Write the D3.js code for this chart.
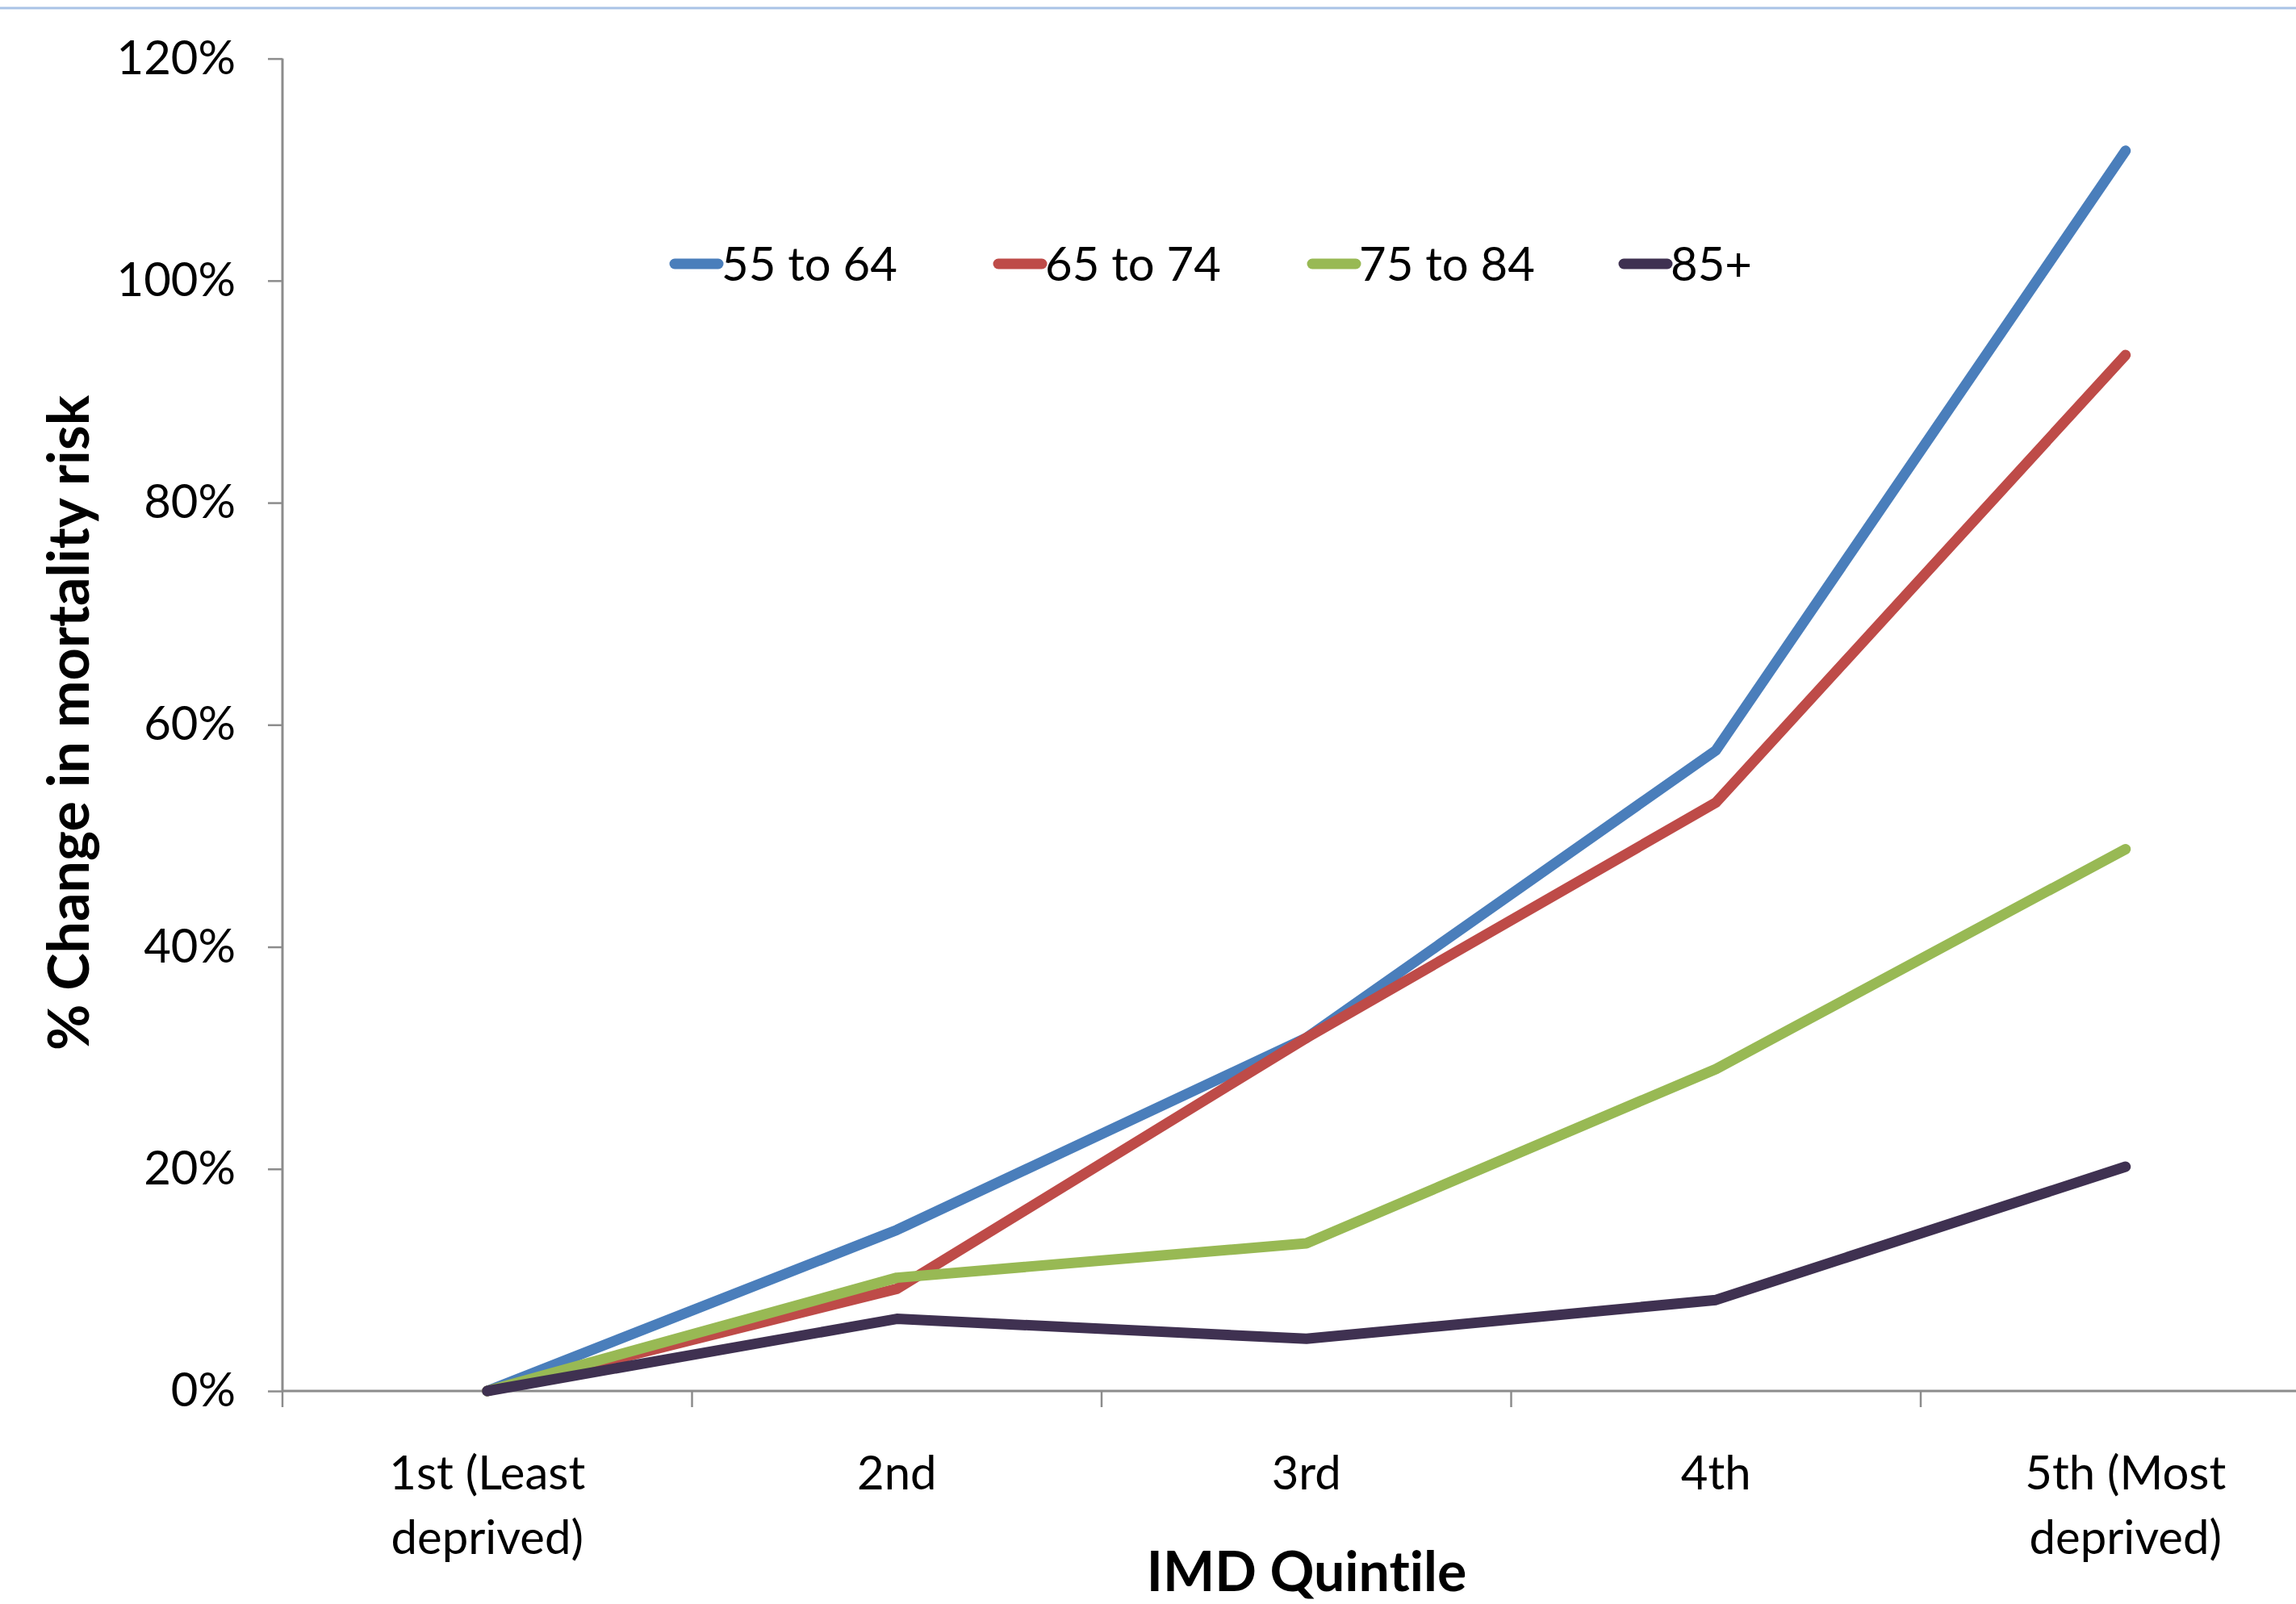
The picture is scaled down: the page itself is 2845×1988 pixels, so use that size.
<!DOCTYPE html>
<html>
<head>
<meta charset="utf-8">
<script src="https://cdn.jsdelivr.net/npm/d3@7"></script>
<style>
  html, body { margin: 0; padding: 0; background: #fff; }
  svg { display: block; }
  text { font-variant-ligatures: none; font-feature-settings: "liga" 0; }
</style>
</head>
<body>
<svg id="chart" width="2845" height="1988"></svg>
<script>
const categories = ["1st (Least|deprived)", "2nd", "3rd", "4th", "5th (Most|deprived)"];
const seriesNames = ["55 to 64", "65 to 74", "75 to 84", "85+"];
const s55to64 = [0, 0.145, 0.318, 0.577, 1.117];
const s65to74 = [0, 0.092, 0.318, 0.530, 0.933];
const s75to84 = [0, 0.102, 0.133, 0.290, 0.488];
const s85plus = [0, 0.065, 0.047, 0.082, 0.202];
const yTicks = [0, 0.2, 0.4, 0.6, 0.8, 1.0, 1.2];
const colors = ["#4a7ebb", "#be4b48", "#98b954", "#3f3151"];

const seriesValues = [s55to64, s65to74, s75to84, s85plus];
const svg = d3.select("#chart");
const W = 2845, H = 1988;
const font = "Lato, 'Open Sans', sans-serif";

// top thin border line
svg.append("line").attr("x1", 0).attr("x2", W).attr("y1", 10).attr("y2", 10)
  .attr("stroke", "#a9c3e6").attr("stroke-width", 3);

const x = d3.scaleBand().domain(categories).range([350, 350 + 5 * 507.5]).paddingInner(0).paddingOuter(0);
const y = d3.scaleLinear().domain([0, 1.2]).range([1724, 72.6]);
const axisColor = "#8c8c8c";

// Y axis
const yAxis = svg.append("g").attr("transform", "translate(350,0)")
  .call(d3.axisLeft(y).tickValues(yTicks).tickFormat(d3.format(".0%")).tickSize(18).tickPadding(40));
yAxis.select(".domain").attr("stroke", axisColor).attr("stroke-width", 3).attr("d", `M0,${y(1.2)}V${y(0)}`);
yAxis.selectAll(".tick line").attr("stroke", axisColor).attr("stroke-width", 2.5);
yAxis.selectAll(".tick text").attr("font-family", font).attr("font-size", 58).attr("fill", "#000");

// X axis line and boundary ticks
const xg = svg.append("g");
xg.append("line").attr("x1", 350).attr("x2", W).attr("y1", y(0)).attr("y2", y(0))
  .attr("stroke", axisColor).attr("stroke-width", 3);
const boundaries = categories.map(c => x(c));
xg.selectAll("line.xt").data(boundaries).enter().append("line").attr("class", "xt")
  .attr("x1", d => d).attr("x2", d => d).attr("y1", y(0)).attr("y2", y(0) + 20)
  .attr("stroke", axisColor).attr("stroke-width", 2.5);

// category labels
const catG = xg.selectAll("text.cat").data(categories).enter().append("text").attr("class", "cat")
  .attr("x", d => x(d) + x.bandwidth() / 2)
  .attr("y", 1846)
  .attr("text-anchor", "middle")
  .attr("font-family", font).attr("font-size", 58).attr("fill", "#000");
catG.each(function(d) {
  const parts = d.split("|");
  const t = d3.select(this);
  parts.forEach((p, i) => {
    t.append("tspan").attr("x", x(d) + x.bandwidth() / 2).attr("dy", i === 0 ? 0 : 80).text(p);
  });
});

// axis titles
svg.append("text").attr("x", 1619).attr("y", 1972).attr("text-anchor", "middle")
  .attr("font-family", font).attr("font-weight", "bold").attr("font-size", 68).attr("fill", "#000")
  .text("IMD Quintile");
svg.append("text").attr("transform", "translate(110,896) rotate(-90)").attr("text-anchor", "middle")
  .attr("font-family", font).attr("font-weight", "bold").attr("font-size", 70).attr("fill", "#000")
  .text("% Change in mortality risk");

// lines
const line = d3.line().x((d, i) => x(categories[i]) + x.bandwidth() / 2).y(d => y(d));
svg.append("g").selectAll("path.series").data(seriesValues).enter().append("path").attr("class", "series")
  .attr("d", d => line(d))
  .attr("fill", "none")
  .attr("stroke", (d, i) => colors[i])
  .attr("stroke-width", 13)
  .attr("stroke-linecap", "round")
  .attr("stroke-linejoin", "round");

// legend
const legendX = [836, 1237, 1626, 2012];
const lg = svg.append("g").selectAll("g").data(seriesNames).enter().append("g")
  .attr("transform", (d, i) => `translate(${legendX[i]},327)`);
lg.append("line").attr("x1", 0).attr("x2", 54).attr("y1", 0).attr("y2", 0)
  .attr("stroke", (d, i) => colors[i]).attr("stroke-width", 13).attr("stroke-linecap", "round");
lg.append("text").attr("x", 58).attr("y", 21)
  .attr("font-family", font).attr("font-size", 58).attr("fill", "#000").text(d => d);
</script>
</body>
</html>
